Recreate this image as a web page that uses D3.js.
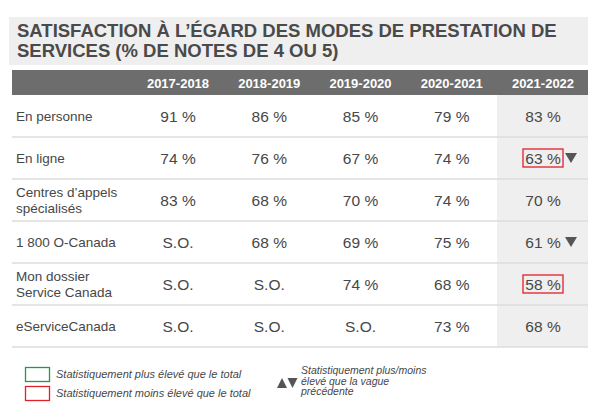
<!DOCTYPE html>
<html><head><meta charset="utf-8">
<script src="https://cdn.jsdelivr.net/npm/d3@7/dist/d3.min.js"></script>
<style>
html,body{margin:0;padding:0;background:#fff;}
svg{display:block;font-family:"Liberation Sans",Arial,Helvetica,sans-serif;}
</style></head>
<body><svg id="c" width="605" height="407"></svg>
<script>
const titleLines = ["SATISFACTION À L’ÉGARD DES MODES DE PRESTATION DE", "SERVICES (% DE NOTES DE 4 OU 5)"];
const years = ["2017-2018", "2018-2019", "2019-2020", "2020-2021", "2021-2022"];
const rowLabels = [["En personne"], ["En ligne"], ["Centres d’appels", "spécialisés"], ["1 800 O-Canada"], ["Mon dossier", "Service Canada"], ["eServiceCanada"]];
const v2017 = [91, 74, 83, null, null, null];
const v2018 = [86, 76, 68, 68, null, null];
const v2019 = [85, 67, 70, 69, 74, null];
const v2020 = [79, 74, 74, 75, 68, 73];
const v2021 = [83, 63, 70, 61, 58, 68];
const lowerThanTotal2021 = [false, true, false, false, true, false];
const downVsPrevious2021 = [false, true, false, true, false, false];
const legendItems = ["Statistiquement plus élevé que le total", "Statistiquement moins élevé que le total"];
const legendWaveLines = ["Statistiquement plus/moins", "élevé que la vague", "précédente"];

const series = [v2017, v2018, v2019, v2020, v2021];
const svg = d3.select("#c");
const textCol = "#474747";

// title band
svg.append("rect").attr("x", 9).attr("y", 17).attr("width", 579).attr("height", 48).attr("fill", "#efefef");
svg.selectAll("text.title").data(titleLines).join("text").attr("class", "title")
  .attr("x", 17).attr("y", (d, i) => 37 + i * 20)
  .attr("font-size", 18.5).attr("font-weight", "bold").attr("fill", "#4a4a4a").text(d => d);

const tableLeft = 12, tableRight = 588;
const x = d3.scalePoint().domain(years).range([178, 543]);
const rowKeys = rowLabels.map((d, i) => i);
const y = d3.scaleBand().domain(rowKeys).range([95, 347]);

// highlighted last column
svg.append("rect").attr("x", 497).attr("y", 95).attr("width", tableRight - 497).attr("height", 252).attr("fill", "#efefef");

// header
svg.append("rect").attr("x", tableLeft).attr("y", 70).attr("width", tableRight - tableLeft).attr("height", 25).attr("fill", "#6d6d6d");
svg.selectAll("text.hdr").data(years).join("text").attr("class", "hdr")
  .attr("x", d => x(d)).attr("y", 88).attr("text-anchor", "middle")
  .attr("font-size", 13).attr("font-weight", "bold").attr("fill", "#fff").text(d => d);

// row separators
svg.selectAll("line.sep").data(rowKeys).join("line").attr("class", "sep")
  .attr("x1", tableLeft).attr("x2", tableRight)
  .attr("y1", d => y(d) + y.bandwidth()).attr("y2", d => y(d) + y.bandwidth())
  .attr("stroke", "#dcdcdc").attr("stroke-width", 1.5);

// row labels
const lab = svg.selectAll("text.lab").data(rowLabels).join("text").attr("class", "lab")
  .attr("font-size", 13.5).attr("fill", textCol);
lab.each(function (lines, i) {
  const cy = y(i) + y.bandwidth() / 2;
  const lh = 15.5;
  const start = cy + 5 - (lines.length - 1) * lh / 2;
  d3.select(this).selectAll("tspan").data(lines).join("tspan")
    .attr("x", 16).attr("y", (d, j) => start + j * lh).text(d => d);
});

// values
const fmt = v => v == null ? "S.O." : v + " %";
series.forEach((vals, ci) => {
  svg.selectAll("text.val" + ci).data(vals).join("text").attr("class", "val" + ci)
    .attr("x", x(years[ci])).attr("y", (d, i) => y(i) + y.bandwidth() / 2 + 5.5)
    .attr("text-anchor", "middle").attr("font-size", 15.5).attr("fill", textCol).text(d => fmt(d));
});

// lower-than-total boxes on last column
const lastX = x(years[4]);
svg.selectAll("rect.low").data(rowKeys.filter(i => lowerThanTotal2021[i])).join("rect").attr("class", "low")
  .attr("x", lastX - 20).attr("y", i => y(i) + y.bandwidth() / 2 - 9).attr("width", 40).attr("height", 18)
  .attr("fill", "none").attr("stroke", "#e0202a").attr("stroke-width", 1.3);

// down triangles
svg.selectAll("path.down").data(rowKeys.filter(i => downVsPrevious2021[i])).join("path").attr("class", "down")
  .attr("d", i => {
    const cx = lastX + 28, cy = y(i) + y.bandwidth() / 2;
    return `M${cx - 6},${cy - 5}L${cx + 6},${cy - 5}L${cx},${cy + 5}Z`;
  }).attr("fill", "#555");

// legend
const legColors = ["#1f9a4b", "#e0202a"];
legendItems.forEach((t, i) => {
  svg.append("rect").attr("x", 25.5).attr("y", 367.5 + i * 19).attr("width", 24).attr("height", 14)
    .attr("fill", "none").attr("stroke", legColors[i]).attr("stroke-width", 1.3);
  svg.append("text").attr("x", 56).attr("y", 378 + i * 19).attr("font-size", 11).attr("font-style", "italic")
    .attr("fill", textCol).text(t);
});
svg.append("path").attr("d", "M277,388L282,378L287,388Z").attr("fill", "#555");
svg.append("path").attr("d", "M287.5,378L297.5,378L292.5,388Z").attr("fill", "#555");
svg.selectAll("text.wave").data(legendWaveLines).join("text").attr("class", "wave")
  .attr("x", 301).attr("y", (d, i) => 374 + i * 10.5).attr("font-size", 10.5).attr("font-style", "italic")
  .attr("fill", textCol).text(d => d);
</script></body></html>
